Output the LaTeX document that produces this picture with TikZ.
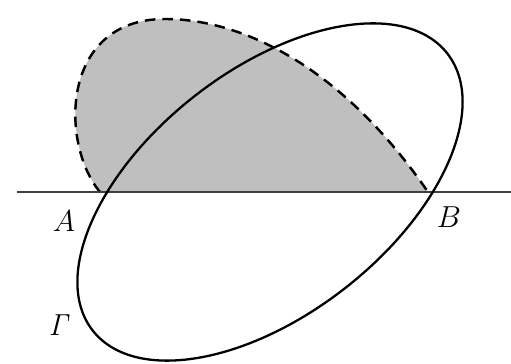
\documentclass[tikz,border=0pt]{standalone}
\usetikzlibrary{positioning}

\begin{document}
\begin{tikzpicture}[x=0.02cm, y=0.02cm, font=\fontsize{18}{20}\selectfont]
\useasboundingbox (0,0) rectangle (511,364);
\coordinate (A) at (106,172);
\coordinate (B) at (432,172);
\coordinate (O) at (270,172);
\coordinate (L) at (17,172);
\coordinate (R) at (511,172);
\coordinate (P) at (100,172);
\coordinate (Q) at (428,172);

% shaded region
\fill[gray!50] (P) .. controls (60,220) and (60,345) .. (165,345)
  .. controls (240,345) and (340,300) .. (Q) -- cycle;
\draw[line width=1.4pt, dash pattern=on 6pt off 4pt] (P) .. controls (60,220) and (60,345) .. (165,345)
  .. controls (240,345) and (340,300) .. (Q);

\draw[line width=0.9pt, black!75] (L) -- (R);
\draw[line width=1.3pt, rotate around={38:(O)}] (O) ellipse [x radius=225, y radius=122];

\node (labA) at (64,143) {$A$};
\node (labB) at (449,147) {$B$};
\node (labG) at (60,39) {$\mathit{\Gamma}$};
\end{tikzpicture}
\end{document}
